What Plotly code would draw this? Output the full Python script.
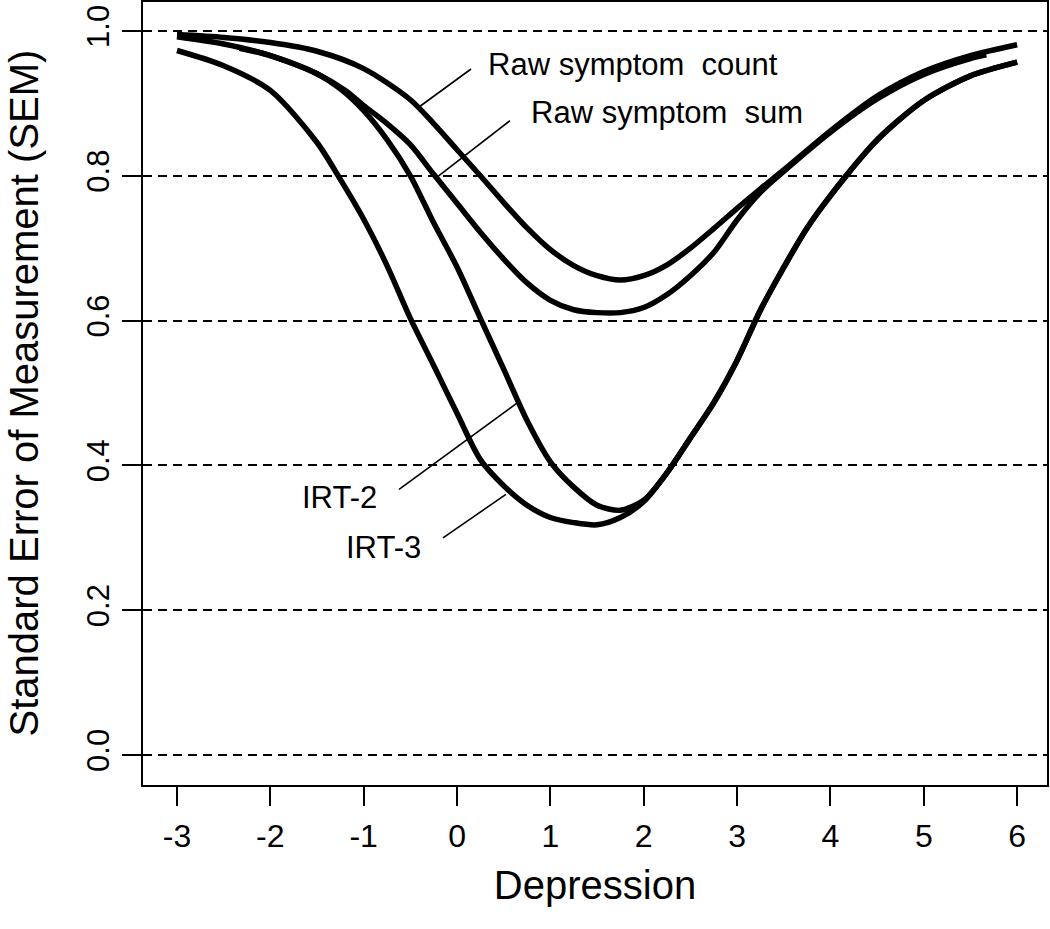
import plotly.graph_objects as go

# ---- data ----
x_count = [-3, -2.5, -2, -1.5, -1, -0.5, -0.25, 0, 0.25, 0.5, 0.75, 1, 1.25, 1.5, 1.75,
           2, 2.25, 2.5, 2.75, 3, 3.25, 3.5, 4, 4.5, 5, 5.5, 6]
raw_count = [0.995, 0.991, 0.984, 0.972, 0.948, 0.905, 0.872, 0.836, 0.800, 0.763, 0.728,
             0.698, 0.676, 0.662, 0.656, 0.662, 0.677, 0.700, 0.727, 0.755, 0.782, 0.808,
             0.862, 0.910, 0.944, 0.966, 0.981]

x_sum = [-2.33, -2, -1.5, -1.2, -1, -0.75, -0.5, -0.25, 0, 0.25, 0.5, 0.75, 1, 1.25, 1.5,
         1.75, 2, 2.25, 2.5, 2.75, 3, 3.25, 3.5, 4, 4.5, 5, 5.5, 5.67]
raw_sum = [0.976, 0.966, 0.941, 0.918, 0.897, 0.872, 0.843, 0.802, 0.762, 0.722, 0.685,
           0.652, 0.628, 0.615, 0.611, 0.611, 0.618, 0.636, 0.662, 0.694, 0.739, 0.777,
           0.806, 0.860, 0.906, 0.940, 0.962, 0.967]

x_irt = [-3, -2.5, -2, -1.5, -1.25, -1, -0.75, -0.5, -0.25, 0, 0.25, 0.5, 0.75, 1, 1.25,
         1.5, 1.75, 2, 2.25, 2.5, 2.75, 3, 3.25, 3.5, 3.75, 4, 4.5, 5, 5.5, 6]
irt2 = [0.992, 0.982, 0.966, 0.941, 0.920, 0.890, 0.850, 0.800, 0.735, 0.674, 0.603,
        0.533, 0.462, 0.405, 0.370, 0.345, 0.338, 0.352, 0.390, 0.438, 0.487, 0.545,
        0.614, 0.674, 0.728, 0.773, 0.849, 0.904, 0.938, 0.957]
irt3 = [0.973, 0.952, 0.918, 0.846, 0.795, 0.740, 0.676, 0.603, 0.538, 0.472, 0.408,
        0.372, 0.345, 0.328, 0.321, 0.318, 0.328, 0.350, 0.390, 0.438, 0.486, 0.545,
        0.615, 0.673, 0.728, 0.772, 0.850, 0.904, 0.938, 0.957]

x_ticks = [-3, -2, -1, 0, 1, 2, 3, 4, 5, 6]
y_ticks = [0.0, 0.2, 0.4, 0.6, 0.8, 1.0]

x_title = "Depression"
y_title = "Standard Error of Measurement (SEM)"

# label texts, anchor points (left edge, middle) and leader lines
labels = ["Raw symptom\u00a0 count", "Raw symptom\u00a0 sum", "IRT-2", "IRT-3"]
label_x = [0.305, 0.766, -1.677, -1.216]
label_y = [0.954, 0.888, 0.355, 0.286]
leader_x = [[0.150, -0.407], [0.567, -0.214], [-0.621, 0.642], [-0.150, 0.524]]
leader_y = [[0.9475, 0.895], [0.876, 0.798], [0.367, 0.486], [0.300, 0.360]]

FONT = "Liberation Sans, Arial, sans-serif"

fig = go.Figure()
for xs, ys, nm in [(x_count, raw_count, "Raw symptom count"),
                   (x_sum, raw_sum, "Raw symptom sum"),
                   (x_irt, irt2, "IRT-2"),
                   (x_irt, irt3, "IRT-3")]:
    fig.add_trace(go.Scatter(x=xs, y=ys, mode="lines", name=nm,
                             line=dict(color="black", width=5.5, shape="spline", smoothing=0.8),
                             showlegend=False, hoverinfo="skip"))

for lx, ly in zip(leader_x, leader_y):
    fig.add_trace(go.Scatter(x=lx, y=ly, mode="lines",
                             line=dict(color="black", width=1.6),
                             showlegend=False, hoverinfo="skip"))

for t, lx, ly in zip(labels, label_x, label_y):
    fig.add_annotation(x=lx, y=ly, xref="x", yref="y", text=t, showarrow=False,
                       xanchor="left", yanchor="middle",
                       font=dict(family=FONT, size=31, color="black"))

# y-axis title placed as rotated text left of the tick labels
fig.add_annotation(x=0, y=0.5, xref="paper", yref="paper", text=y_title,
                   showarrow=False, textangle=-90, xanchor="center", yanchor="middle",
                   xshift=-120, borderpad=0, font=dict(family=FONT, size=40, color="black"))

fig.update_layout(
    width=1050, height=929,
    margin=dict(l=143, r=3, t=2, b=144, autoexpand=False),
    paper_bgcolor="white", plot_bgcolor="white",
    font=dict(family=FONT, color="black"),
)
fig.update_xaxes(
    range=[-3.364, 6.32], tickmode="array", tickvals=x_ticks,
    ticktext=[str(v) for v in x_ticks],
    ticks="outside", ticklen=19, tickwidth=1.5, tickcolor="black",
    tickfont=dict(family=FONT, size=32, color="black"),
    ticklabelstandoff=3, automargin=False,
    showline=True, linecolor="black", linewidth=2, mirror=True,
    showgrid=False, zeroline=False,
    title=dict(text=x_title, font=dict(family=FONT, size=40, color="black"), standoff=18),
)
fig.update_yaxes(
    range=[-0.0414, 1.04], tickmode="array", tickvals=y_ticks,
    ticktext=[f"{v:.1f}" for v in y_ticks],
    ticks="outside", ticklen=19, tickwidth=1.5, tickcolor="black",
    tickfont=dict(family=FONT, size=31, color="black"), tickangle=-90,
    ticklabelstandoff=1, automargin=False,
    showline=True, linecolor="black", linewidth=2, mirror=True,
    showgrid=True, gridcolor="black", gridwidth=1.8, griddash="9px,6px",
    zeroline=False,
)

fig.write_html("out.html", config={"displayModeBar": False},
               post_script="document.body.style.margin='0';document.body.style.overflow='hidden';")
